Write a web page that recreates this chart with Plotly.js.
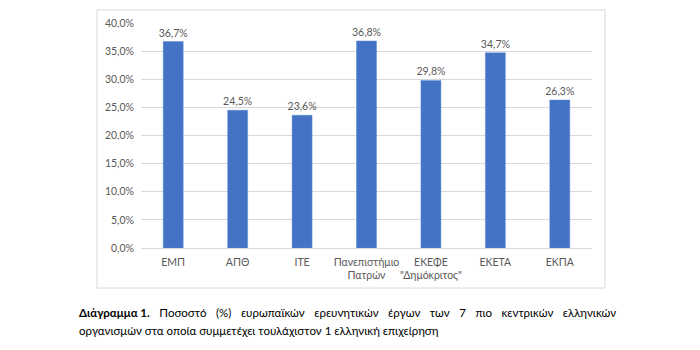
<!DOCTYPE html>
<html>
<head>
<meta charset="utf-8">
<script src="https://cdn.plot.ly/plotly-3.0.1.min.js"></script>
<style>html,body{margin:0;padding:0;background:#fff;}#chart{width:700px;height:350px;}</style>
</head>
<body>
<div id="chart"></div>
<script>
var categories = ['ΕΜΠ', 'ΑΠΘ', 'ΙΤΕ', 'Πανεπιστήμιο<br>Πατρών', 'ΕΚΕΦΕ<br>"Δημόκριτος"', 'ΕΚΕΤΑ', 'ΕΚΠΑ'];
var values = [36.7, 24.5, 23.6, 36.8, 29.8, 34.7, 26.3];
var tickVals = [0, 5, 10, 15, 20, 25, 30, 35, 40];
var tickLabels = ['0,0%', '5,0%', '10,0%', '15,0%', '20,0%', '25,0%', '30,0%', '35,0%', '40,0%'];
var captionBold = 'Διάγραμμα 1.';
var captionWords1 = ['Ποσοστό', '(%)', 'ευρωπαϊκών', 'ερευνητικών', 'έργων', 'των', '7', 'πιο', 'κεντρικών', 'ελληνικών'];
var captionLine2 = 'οργανισμών στα οποία συμμετέχει τουλάχιστον 1 ελληνική επιχείρηση';

var font = 'Lato, "Open Sans", sans-serif';
var trace = {
  type: 'bar',
  x: categories,
  y: values,
  marker: {color: '#4472C4', line: {color: '#5B8BD9', width: 0.5}},
  width: 0.31,
  texttemplate: '%{y:.1f}%',
  textposition: 'outside',
  constraintext: 'none',
  cliponaxis: false,
  textfont: {family: font, size: 10.5, color: '#595959'},
  hoverinfo: 'skip'
};
var gap = '&nbsp;&nbsp;&nbsp;&#8202;';
var layout = {
  width: 700, height: 350,
  margin: {l: 141, r: 108, t: 23, b: 102},
  paper_bgcolor: '#fff', plot_bgcolor: '#fff',
  separators: ',.',
  showlegend: false,
  font: {family: font, color: '#595959', size: 10.5},
  xaxis: {
    type: 'category', showgrid: false, zeroline: false,
    showline: true, linecolor: '#D9D9D9', linewidth: 1,
    ticks: '', tickangle: 0, automargin: false, ticklabelstandoff: 4,
    tickfont: {family: font, size: 10.5, color: '#595959'}
  },
  yaxis: {
    range: [0, 40], tickmode: 'array', tickvals: tickVals, ticktext: tickLabels,
    showgrid: true, gridcolor: '#D9D9D9', gridwidth: 1, zeroline: false,
    showline: false, ticks: '', automargin: false, ticklabelstandoff: 6,
    tickfont: {family: font, size: 10.5, color: '#595959'}
  },
  shapes: [{
    type: 'rect', xref: 'paper', yref: 'paper',
    x0: (97 - 141) / 451, x1: (605 - 141) / 451,
    y0: -0.178, y1: 1.058,
    line: {color: '#D9D9D9', width: 1}, fillcolor: 'rgba(0,0,0,0)', layer: 'below'
  }],
  annotations: [
    {xref: 'paper', yref: 'paper', x: (77 - 141) / 451, y: (248 - 312) / 225,
     xanchor: 'left', yanchor: 'middle', showarrow: false, align: 'left',
     text: '<b>' + captionBold + '</b>' + gap + captionWords1.join(gap),
     font: {family: font, size: 11.5, color: '#000'}},
    {xref: 'paper', yref: 'paper', x: (77 - 141) / 451, y: (248 - 330) / 225,
     xanchor: 'left', yanchor: 'middle', showarrow: false, align: 'left',
     text: captionLine2,
     font: {family: font, size: 11.5, color: '#000'}}
  ]
};
Plotly.newPlot('chart', [trace], layout, {displayModeBar: false, staticPlot: true});
</script>
</body>
</html>
